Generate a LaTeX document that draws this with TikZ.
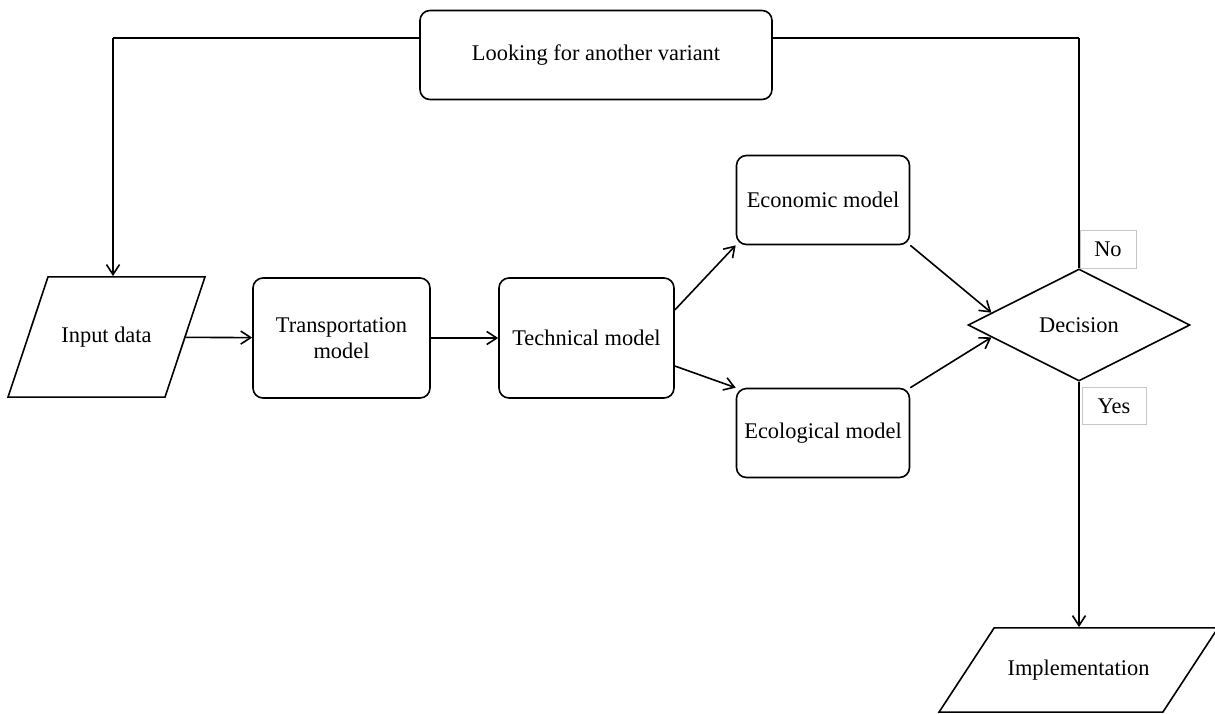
\documentclass[tikz,border=0pt]{standalone}
\usepackage{fontspec}
\setmainfont{Liberation Serif}
\usepackage{tikz}
\usetikzlibrary{arrows.meta, shapes.geometric}

\begin{document}
\begin{tikzpicture}[x=0.5pt,y=-0.5pt,->,>={Straight Barb[length=5pt,width=6.5pt]},
  line width=0.8pt,font=\fontsize{11.2}{13}\selectfont,
  model/.style={rectangle,draw,rounded corners=5pt,align=center,inner sep=2pt},
  io/.style={trapezium,draw,trapezium stretches body,inner xsep=2pt},
  tag/.style={rectangle,draw=gray!45,line width=0.5pt,inner sep=0pt}]
  \useasboundingbox (0,0) rectangle (1215,713);

  \node[model,minimum width=176pt,minimum height=44.5pt] (LOOK) at (596,55) {Looking for another variant};
  \node[io,trapezium left angle=71.6,trapezium right angle=108.4,
    minimum width=98.5pt,inner ysep=25pt] (IN) at (106.5,337) {Input data};
  \node[model,minimum width=88.5pt,minimum height=60pt] (TR) at (341.5,338) {Transportation\\model};
  \node[model,minimum width=87.5pt,minimum height=60pt] (TE) at (586.5,338) {Technical model};
  \node[model,minimum width=86.5pt,minimum height=44.5pt] (EC) at (823,200) {Economic model};
  \node[model,minimum width=86.5pt,minimum height=44.5pt] (EL) at (823,433) {Ecological model};
  \node[diamond,draw,aspect=2,inner sep=0pt,minimum width=111pt,minimum height=56pt] (DEC) at (1079,325) {Decision};
  \node[tag,minimum width=28pt,minimum height=19pt] (NO) at (1108,249) {No};
  \node[tag,minimum width=32pt,minimum height=18.5pt] (YES) at (1114,406) {Yes};
  \node[io,trapezium left angle=56.8,trapezium right angle=123.2,
    minimum width=139.5pt,inner ysep=16pt] (IMP) at (1078.5,670) {Implementation};

  \coordinate (C1) at (113,38);
  \coordinate (C2) at (1079,38);

  \path
     (LOOK.west |- C1) edge [-] (C1)
     (C1) edge (C1 |- IN.north)
     (LOOK.east |- C2) edge [-] (C2)
     (C2) edge [-] (DEC.north)
     (IN) edge (TR)
     (TR) edge (TE)
     ([yshift=14pt]TE.east) edge (EC.south west)
     ([yshift=-14pt]TE.east) edge (EL.north west)
     (EC.south east) edge (DEC.172)
     (EL.north east) edge (DEC.188)
     (DEC.south) edge (DEC.south |- IMP.north);
\end{tikzpicture}
\end{document}
